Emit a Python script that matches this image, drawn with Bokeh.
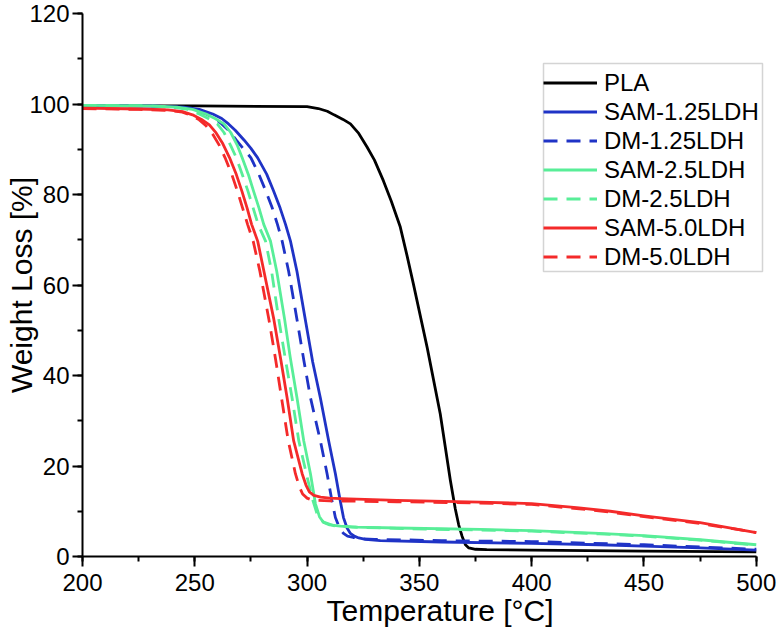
from bokeh.plotting import figure
from bokeh.models import SingleIntervalTicker, Range1d, Title, BoxAnnotation
from bokeh.embed import file_html
from bokeh.resources import INLINE

# ---- data ----
PLA_T = [200, 250, 300, 305, 309, 312, 316, 319.3, 323, 326.7, 330, 334, 337.5, 341.5, 344.5, 347.3,
         353.5, 359.3, 363.8, 366, 367.5, 369, 370.5, 372, 375, 380, 400, 450, 500]
PLA_W = [99.6, 99.6, 99.4, 99.0, 98.4, 97.6, 96.6, 95.6, 93.5, 90.5, 87.6, 83.0, 78.5, 72.8, 66.5, 60.3,
         46.1, 31.5, 16.8, 10.5, 7.0, 4.5, 2.6, 1.9, 1.6, 1.5, 1.4, 1.2, 1.0]

SAM125_T = [200, 230, 245, 252, 258, 262, 265, 268, 272, 275, 278, 282, 285, 288, 290.4, 292.6, 295.5,
            299.2, 302.5, 305.9, 309.6, 312.6, 314.5, 316.2, 317.8, 319.3, 321, 323, 326, 332.6, 360,
            400, 430, 450, 475, 500]
SAM125_W = [99.7, 99.6, 99.3, 98.8, 97.8, 96.8, 95.6, 94.2, 92.0, 90.2, 88.1, 84.5, 80.9, 77.0, 73.4,
            69.7, 63.0, 52.4, 43.0, 35.1, 25.6, 18.3, 13.0, 8.6, 6.3, 5.1, 4.5, 4.1, 3.8, 3.5, 3.2,
            2.9, 2.6, 2.3, 1.9, 1.4]

DM125_T = [200, 230, 242, 249, 255, 259, 262, 265, 268.5, 271.5, 275, 278.5, 281.5, 284.5, 286.8, 288.9,
           291.8, 295.5, 298.5, 301.5, 305.9, 308.9, 311, 312.6, 314.5, 316.2, 318, 320.6, 325, 330,
           360, 400, 450, 500]
DM125_W = [99.7, 99.6, 99.3, 98.8, 97.8, 96.8, 95.6, 94.2, 92.0, 90.2, 88.1, 84.5, 80.9, 77.0, 73.4, 69.7,
           63.0, 52.4, 43.5, 35.1, 25.6, 18.3, 12.5, 8.6, 6.2, 5.1, 4.5, 4.2, 3.9, 3.8,
           3.5, 3.3, 2.6, 1.6]

SAM25_T = [200, 230, 242, 249, 255, 259, 263, 266, 269, 271.1, 274, 276.2, 278.6, 280.7, 283.7, 286.5,
           290, 292.5, 295.5, 298.5, 301.5, 303.7, 305.5, 307.3, 310, 314.8, 322, 340, 377, 400, 430,
           450, 475, 500]
SAM25_W = [99.7, 99.6, 99.3, 98.8, 97.8, 96.8, 95.6, 93.7, 90.8, 88.1, 84.2, 80.7, 77.0, 73.4, 69.7, 63.0,
           52.4, 44.0, 35.1, 25.6, 18.3, 11.7, 8.8, 7.5, 7.0, 6.7, 6.5, 6.3, 6.0, 5.7, 5.1,
           4.6, 3.7, 2.6]

DM25_T = [200, 230, 240, 247, 252, 256, 260, 263, 266, 268.5, 271.3, 273.7, 276, 278.2, 281.5, 284.2,
          287.4, 290.2, 293.3, 296.3, 300, 302.5, 304.4, 306, 307.4, 312, 320, 340, 400, 430, 450,
          475, 500]
DM25_W = [99.7, 99.6, 99.3, 98.8, 97.8, 96.8, 95.6, 93.7, 90.8, 88.1, 84.2, 80.7, 77.0, 73.4, 69.7, 63.0,
          52.4, 44.0, 35.1, 25.6, 17.6, 12.5, 9.5, 8.2, 7.6, 6.8, 6.5, 6.2, 5.6, 5.0, 4.5,
          3.6, 2.5]

SAM50_T = [200, 225, 238, 244.5, 249, 253, 256.5, 259.5, 262.5, 265.5, 268.5, 271, 273.3, 275.3, 278,
           280.8, 285.2, 288.3, 291.1, 294, 297.8, 299.5, 301, 303, 306, 310, 315, 340, 377, 400, 420,
           435, 450, 475, 500]
SAM50_W = [99.1, 98.9, 98.7, 98.3, 97.6, 96.6, 95.4, 93.6, 91.2, 88.1, 84.4, 80.7, 77.0, 73.4, 69.7,
           63.0, 52.4, 43.5, 35.1, 25.6, 18.3, 15.8, 14.3, 13.5, 13.1, 12.9, 12.8, 12.4, 12.0, 11.7, 10.8,
           10.0, 9.0, 7.5, 5.3]

DM50_T = [200, 225, 238, 244.5, 248.5, 252, 255, 258, 261, 263.5, 266.5, 269, 271.3, 273.5, 276,
          279, 283, 286, 288.6, 291.6, 294.8, 296.5, 298, 300, 302, 305, 310, 340, 377, 400, 420,
          435, 450, 475, 500]
DM50_W = [99.0, 98.8, 98.6, 98.2, 97.5, 96.5, 95.2, 93.3, 90.8, 88.1, 84.4, 80.7, 77.0, 73.4, 69.7,
          63.0, 52.4, 43.5, 35.1, 25.6, 18.3, 15.5, 13.8, 12.9, 12.5, 12.4, 12.3, 12.1, 11.8, 11.5, 10.6,
          9.8, 8.8, 7.3, 5.3]

SERIES = [
    ("PLA", PLA_T, PLA_W, "#000000", "solid"),
    ("SAM-1.25LDH", SAM125_T, SAM125_W, "#1f33c6", "solid"),
    ("DM-1.25LDH", DM125_T, DM125_W, "#1f33c6", "14 9"),
    ("SAM-2.5LDH", SAM25_T, SAM25_W, "#58ee98", "solid"),
    ("DM-2.5LDH", DM25_T, DM25_W, "#58ee98", "14 9"),
    ("SAM-5.0LDH", SAM50_T, SAM50_W, "#f42a2a", "solid"),
    ("DM-5.0LDH", DM50_T, DM50_W, "#f42a2a", "14 9"),
]

X_AXIS_BOUNDS = (200, 500)
X_RANGE = (200, 505.0)   # extra frame on the right so the legend is not clipped
Y_RANGE = (0, 120)
X_TITLE = "Temperature [°C]"
Y_TITLE = "Weight Loss [%]"
FONT = "Liberation Sans"

p = figure(width=778, height=636, output_backend="svg", toolbar_location=None,
           x_range=Range1d(*X_RANGE), y_range=Range1d(*Y_RANGE),
           min_border_left=82, min_border_right=11, min_border_top=13, min_border_bottom=80)
p.outline_line_color = None
p.grid.visible = False
p.background_fill_color = "white"
p.border_fill_color = "white"

for name, t, w, col, dash in SERIES:
    p.line(t, w, line_color=col, line_width=2.8, line_dash=dash, line_join="round",
           legend_label=name)

p.xaxis.ticker = SingleIntervalTicker(interval=50, num_minor_ticks=2)
p.yaxis.ticker = SingleIntervalTicker(interval=20, num_minor_ticks=2)
p.xaxis.bounds = X_AXIS_BOUNDS
for ax in (p.xaxis, p.yaxis):
    ax.axis_line_color = "black"
    ax.axis_line_width = 2
    ax.major_tick_line_color = "black"
    ax.major_tick_line_width = 2
    ax.minor_tick_line_color = "black"
    ax.minor_tick_line_width = 2
    ax.major_tick_out = 10
    ax.major_tick_in = 0
    ax.minor_tick_out = 5
    ax.minor_tick_in = 0
    ax.major_label_text_font = FONT
    ax.major_label_text_font_size = "24px"
    ax.major_label_text_color = "black"
    ax.axis_label_text_font = FONT
    ax.axis_label_text_font_size = "30px"
    ax.axis_label_text_font_style = "normal"
    ax.axis_label_text_color = "black"
p.xaxis.major_label_standoff = 7
p.yaxis.major_label_standoff = 3
p.yaxis.axis_label_standoff = -12
p.yaxis.axis_label = Y_TITLE

# x title placed as a below-title, left-aligned with an offset (as in the reference)
p.add_layout(Title(text=X_TITLE, align="left", offset=244, standoff=0, vertical_align="top",
                   text_font=FONT, text_font_size="30px", text_font_style="normal",
                   text_color="black"), "below")

lg = p.legend[0]
lg.location = (461, 285)
lg.label_text_font = FONT
lg.label_text_font_size = "24px"
lg.label_text_color = "black"
lg.glyph_width = 54
lg.glyph_height = 29
lg.label_height = 29
lg.label_standoff = 7
lg.spacing = 0
lg.padding = 3
lg.margin = 0
lg.border_line_color = None
lg.background_fill_alpha = 0.0

# legend frame drawn explicitly (canvas pixel units)
p.add_layout(BoxAnnotation(left=543, right=762, top=63, bottom=271,
                           left_units="canvas", right_units="canvas",
                           top_units="canvas", bottom_units="canvas",
                           fill_alpha=0.0, line_color="#707070", line_width=1.5))

open("out.html", "w").write(file_html(p, INLINE))
